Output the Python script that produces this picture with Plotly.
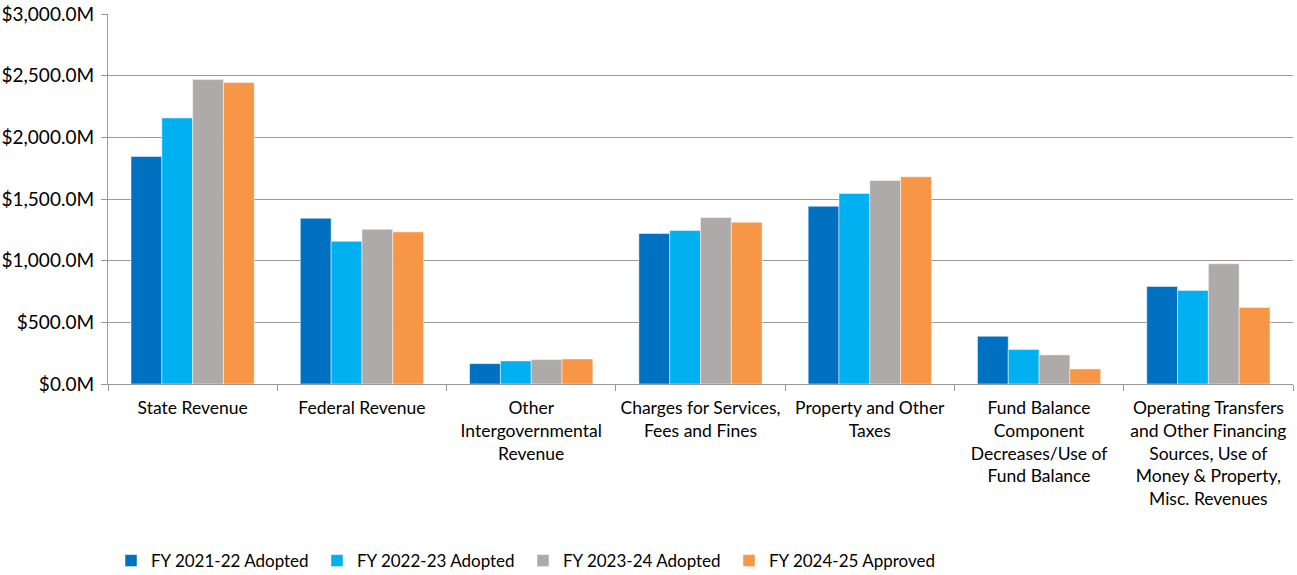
import plotly.graph_objects as go

categories = [
    "State Revenue",
    "Federal Revenue",
    "Other<br>Intergovernmental<br>Revenue",
    "Charges for Services,<br>Fees and Fines",
    "Property and Other<br>Taxes",
    "Fund Balance<br>Component<br>Decreases/Use of<br>Fund Balance",
    "Operating Transfers<br>and Other Financing<br>Sources, Use of<br>Money &amp; Property,<br>Misc. Revenues",
]
series_names = ["FY 2021-22 Adopted", "FY 2022-23 Adopted", "FY 2023-24 Adopted", "FY 2024-25 Approved"]
fy2122 = [1845, 1344, 165, 1220, 1441, 387, 791]
fy2223 = [2157, 1157, 187, 1244, 1545, 279, 759]
fy2324 = [2468, 1254, 198, 1350, 1650, 236, 975]
fy2425 = [2444, 1233, 203, 1311, 1680, 122, 620]
colors = ["#0070C0", "#00B0F0", "#AEAAAA", "#F79646"]

fig = go.Figure()
for name, vals, col in zip(series_names, [fy2122, fy2223, fy2324, fy2425], colors):
    fig.add_trace(go.Bar(
        x=categories, y=vals, name=name,
        marker=dict(color=col, line=dict(color="rgba(255,255,255,0.6)", width=0.8)),
    ))

font_family = "Lato, Liberation Sans, sans-serif"
W, H = 1297, 575
fig.update_layout(
    width=W, height=H,
    margin=dict(l=108, r=4, t=14, b=191, autoexpand=False),
    paper_bgcolor="white", plot_bgcolor="white",
    barmode="group", bargap=0.272, bargroupgap=0,
    font=dict(family=font_family, size=17, color="#000000"),
    showlegend=True,
    legend=dict(
        orientation="h", xref="container", x=(111 / W), xanchor="left",
        yref="container", y=(H - 561) / H, yanchor="middle",
        font=dict(size=17, color="#000000"),
        entrywidth=161, entrywidthmode="pixels",
        itemwidth=30, traceorder="normal",
    ),
    xaxis=dict(
        automargin=False,
        showline=True, linecolor="#999999", linewidth=1.3,
        ticks="outside", tickson="boundaries", ticklen=6, tickcolor="#999999", tickwidth=1.3,
        showgrid=False, tickfont=dict(size=17.5), tickangle=0, ticklabelstandoff=8,
    ),
    yaxis=dict(
        automargin=False,
        range=[0, 3000], dtick=500, tick0=0,
        tickformat=",.1f", tickprefix="$", ticksuffix="M",
        showline=True, linecolor="#999999", linewidth=1.3,
        ticks="outside", ticklen=6, tickcolor="#999999", tickwidth=1.3,
        showgrid=True, gridcolor="#999999", gridwidth=1.3,
        zeroline=False, tickfont=dict(size=19), ticklabelstandoff=3,
    ),
)

fig.write_html(
    "out.html",
    config={"displayModeBar": False},
    post_script="document.body.style.margin='0';document.body.style.overflow='hidden';window.scrollTo(0,0);",
)
